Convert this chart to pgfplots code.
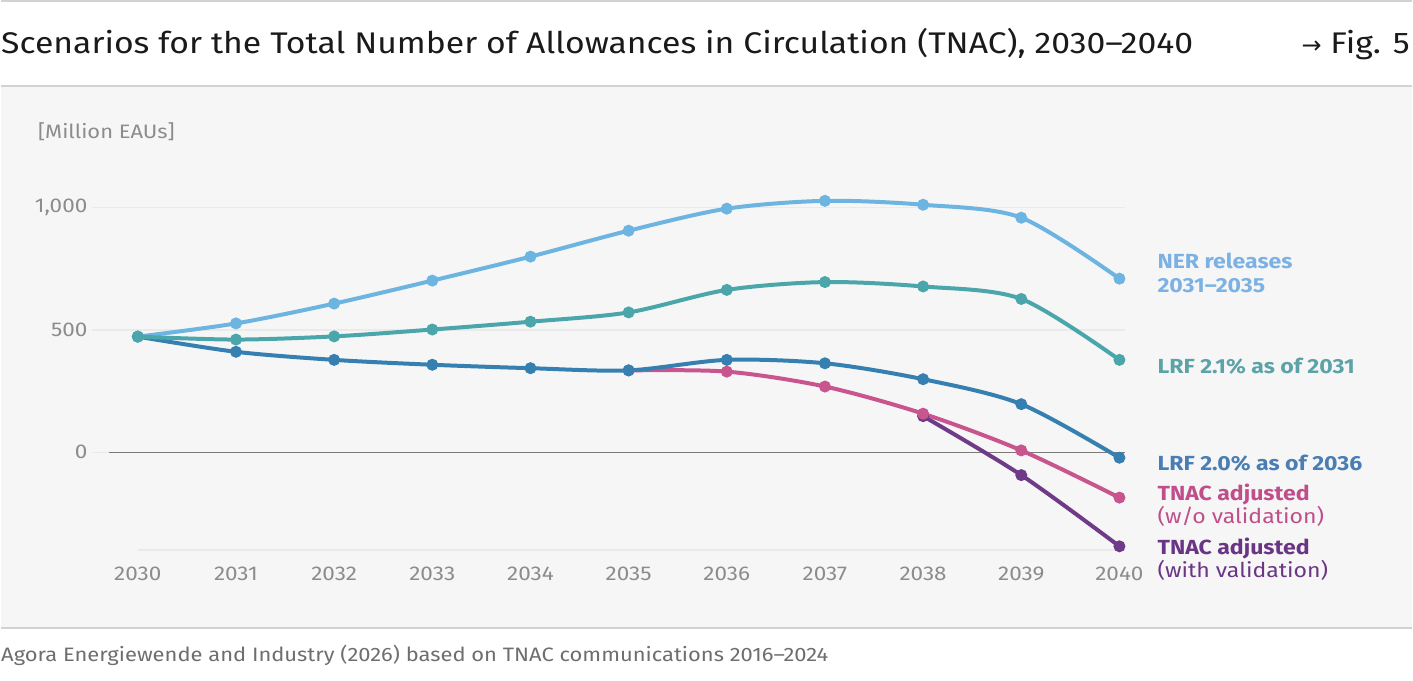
\documentclass[border=0pt]{standalone}
\usepackage{fontspec}
\setmainfont{Fira Sans}[FakeStretch=1.13]
\newfontfamily\symfont{DejaVu Sans}
\usepackage{pgfplots}
\pgfplotsset{compat=1.18}

\definecolor{panel}{HTML}{F6F6F6}
\definecolor{rule}{HTML}{D2D2D2}
\definecolor{gridc}{HTML}{EAEAEA}
\definecolor{zeroc}{HTML}{7A7A7A}
\definecolor{tickc}{HTML}{8C8C8C}
\definecolor{footc}{HTML}{6E6E6E}
\definecolor{titlec}{HTML}{1A1A1A}
\definecolor{ner}{HTML}{6DB5E0}
\definecolor{lrfa}{HTML}{4BA6AC}
\definecolor{lrfb}{HTML}{3580B0}
\definecolor{tnacw}{HTML}{C8558E}
\definecolor{tnacv}{HTML}{6F3A87}
\definecolor{nerT}{HTML}{7CB1E3}
\definecolor{lrfaT}{HTML}{5CA3A7}
\definecolor{lrfbT}{HTML}{4A7EB3}
\definecolor{tnacwT}{HTML}{C04E8A}
\definecolor{tnacvT}{HTML}{6A3584}

\pgfplotstableread{
year ner   lrfa  lrfb
2030 473   473   473
2031 527   461   411
2032 608   474   378
2033 702   502   358
2034 800   534   344
2035 906   572   335
2036 996   664   378
2037 1028  696   364
2038 1012  678   299
2039 959   627   197
2040 710   378   -22
}\maintable

\pgfplotstableread{
year val
2035 335
2036 330
2037 269
2038 158
2039 8
2040 -185
}\tnacwo

\pgfplotstableread{
year val
2038 148
2039 -93
2040 -384
}\tnacwith

\begin{document}
\begin{tikzpicture}
  \begin{scope}[x=1bp,y=1bp]
  % page, panel and rules
  \fill[white] (0,0) rectangle (1413,681);
  \fill[panel] (0,52) rectangle (1413,595);
  \draw[rule, line width=1.5bp] (0,680.2) -- (1413,680.2);
  \draw[rule, line width=1.5bp] (0,595) -- (1413,595);
  \draw[rule, line width=2bp] (0,52) -- (1413,52);

  % heading and source line
  \node[anchor=base west, inner sep=0, text=titlec, font=\fontsize{30}{36}\selectfont]
    at (0,627) {Scenarios for the Total Number of Allowances in Circulation (TNAC), 2030–2040};
  \node[anchor=base east, inner sep=0, text=titlec, font=\fontsize{30}{36}\selectfont]
    at (1411,627) {{\symfont\fontsize{24}{30}\selectfont →} Fig. 5};
  \node[anchor=base west, inner sep=0, text=footc, font=\fontsize{19.5}{24}\selectfont]
    at (0,19) {Agora Energiewende and Industry (2026) based on TNAC communications 2016–2024};
  \node[anchor=base west, inner sep=0, text=tickc, font=\fontsize{19.5}{24}\selectfont]
    at (37,542) {[Million EAUs]};
  \end{scope}

  \begin{axis}[
    at={(91bp,130bp)}, anchor=south west,
    scale only axis, width=1035bp, height=367.5bp,
    xmin=2029.532, xmax=2040.061, ymin=-400, ymax=1100,
    clip=false,
    axis line style={draw=none},
    major tick length=0pt,
    xtick={2030,2031,...,2040},
    xticklabels={2030,2031,2032,2033,2034,2035,2036,2037,2038,2039,2040},
    ytick={0,500,1000},
    yticklabels={0,{500},{1,000}},
    ymajorgrids, grid style={gridc, line width=1.5bp},
    ticklabel style={text=tickc, font=\fontsize{20}{24}\selectfont},
    xticklabel style={yshift=-13bp},
    yticklabel style={xshift=-1bp},
    every axis plot/.append style={line width=4bp, smooth, tension=0.5,
      mark=*, mark size=5.5bp, mark options={solid, line width=1bp}},
  ]
    % base lines
    \draw[gridc, line width=1.5bp] (axis cs:2030,-400) -- (axis cs:2040.061,-400);
    \draw[zeroc, line width=1.5bp] (axis cs:2029.705,0) -- (axis cs:2040.061,0);

    \addplot[color=tnacv] table[x=year, y=val] {\tnacwith};
    \addplot[color=tnacw] table[x=year, y=val] {\tnacwo};
    \addplot[color=lrfb] table[x=year, y=lrfb] {\maintable};
    \addplot[color=ner] table[x=year, y=ner] {\maintable};
    \addplot[color=lrfa] table[x=year, y=lrfa] {\maintable};
  \end{axis}

  % series names
  \begin{scope}[x=1bp,y=1bp,every node/.style={anchor=base west, inner sep=0, font=\fontsize{20.5}{24}\selectfont}]
    \node[text=nerT, font=\fontsize{20.5}{24}\selectfont\bfseries] at (1158,412) {NER releases};
    \node[text=nerT, font=\fontsize{20.5}{24}\selectfont\bfseries] at (1158,388) {2031–2035};
    \node[text=lrfaT, font=\fontsize{20.5}{24}\selectfont\bfseries] at (1158,307) {LRF 2.1\% as of 2031};
    \node[text=lrfbT, font=\fontsize{20.5}{24}\selectfont\bfseries] at (1158,210) {LRF 2.0\% as of 2036};
    \node[text=tnacwT, font=\fontsize{20.5}{24}\selectfont\bfseries] at (1158,180) {TNAC adjusted};
    \node[text=tnacwT] at (1158,157) {(w/o validation)};
    \node[text=tnacvT, font=\fontsize{20.5}{24}\selectfont\bfseries] at (1158,126) {TNAC adjusted};
    \node[text=tnacvT] at (1158,103) {(with validation)};
  \end{scope}
\end{tikzpicture}
\end{document}
